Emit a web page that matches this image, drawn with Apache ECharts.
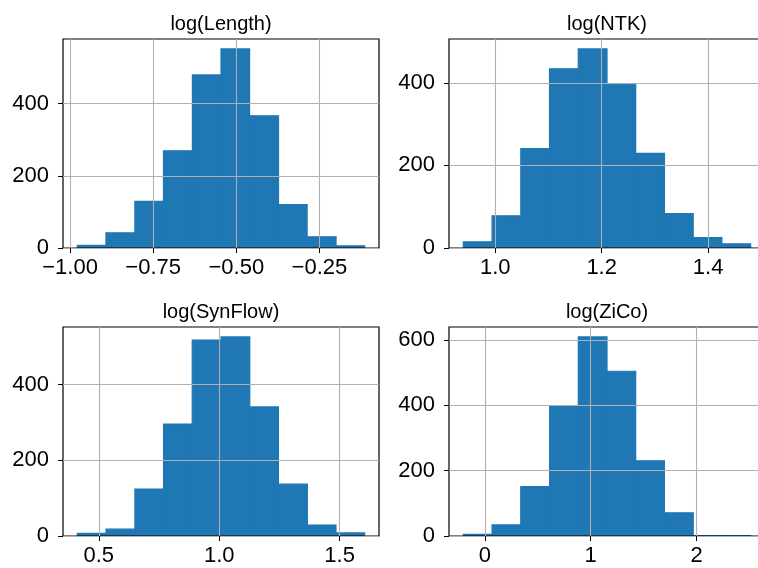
<!DOCTYPE html>
<html>
<head>
<meta charset="utf-8">
<script src="https://cdn.jsdelivr.net/npm/echarts@6/dist/echarts.min.js"></script>
<style>
    body { margin: 0; background: #fff; }
    #main { width: 758px; height: 568px; }
</style>
</head>
<body>
<div id="main"></div>
<script>
// panel titles
let titles = ['log(Length)', 'log(NTK)', 'log(SynFlow)', 'log(ZiCo)'];

// bin edges (10 bins each)
let lengthEdges = [-0.978, -0.892, -0.805, -0.719, -0.632, -0.546, -0.460, -0.373, -0.287, -0.200, -0.114];
let ntkEdges = [0.940, 0.994, 1.048, 1.102, 1.156, 1.210, 1.264, 1.318, 1.372, 1.426, 1.480];
let synflowEdges = [0.411, 0.530, 0.650, 0.769, 0.888, 1.008, 1.127, 1.246, 1.366, 1.485, 1.604];
let zicoEdges = [-0.202, 0.069, 0.340, 0.612, 0.883, 1.154, 1.425, 1.696, 1.968, 2.239, 2.510];

// counts per bin
let lengthCounts = [7, 42, 129, 269, 479, 551, 366, 120, 31, 6];
let ntkCounts = [15, 78, 241, 434, 482, 396, 229, 83, 25, 10];
let synflowCounts = [7, 18, 124, 296, 518, 526, 341, 137, 29, 8];
let zicoCounts = [5, 34, 151, 399, 609, 504, 230, 71, 1, 1];

// tick labels
let lengthTicks = [-1.00, -0.75, -0.50, -0.25];
let ntkTicks = [1.0, 1.2, 1.4];
let synflowTicks = [0.5, 1.0, 1.5];
let zicoTicks = [0, 1, 2];
let yTicksA = [0, 200, 400];
let yTicksB = [0, 200, 400, 600];

let panels = [
    {edges: lengthEdges, counts: lengthCounts, ticks: lengthTicks, dec: 2, yTicks: yTicksA, left: 63, top: 39},
    {edges: ntkEdges, counts: ntkCounts, ticks: ntkTicks, dec: 1, yTicks: yTicksA, left: 449, top: 39},
    {edges: synflowEdges, counts: synflowCounts, ticks: synflowTicks, dec: 1, yTicks: yTicksA, left: 63, top: 327},
    {edges: zicoEdges, counts: zicoCounts, ticks: zicoTicks, dec: 0, yTicks: yTicksB, left: 449, top: 327}
];

let font = 'Liberation Sans, Arial, Helvetica, sans-serif';
let gridW = 316, gridH = 209;

function renderBar(params, api) {
    let p0 = api.coord([api.value(0), api.value(2)]);
    let p1 = api.coord([api.value(1), 0]);
    return {
        type: 'rect',
        shape: {x: p0[0], y: p0[1], width: p1[0] - p0[0], height: p1[1] - p0[1]},
        // same-colour stroke closes the anti-aliasing seams between bins
        style: {fill: '#1f77b4', stroke: '#1f77b4', lineWidth: 1.2}
    };
}

let grids = [], xAxes = [], yAxes = [], series = [], graphics = [];

panels.forEach(function (p, i) {
    let lo = p.edges[0], hi = p.edges[p.edges.length - 1];
    let pad = (hi - lo) * 0.05;
    let ymax = Math.max.apply(null, p.counts) * 1.05;
    let data = [];
    for (let k = 0; k < p.counts.length; k++) {
        data.push([p.edges[k], p.edges[k + 1], p.counts[k]]);
    }
    // grid lines at the tick values, drawn above the bars like matplotlib
    let gridLines = [];
    p.ticks.forEach(function (v) { gridLines.push({xAxis: v}); });
    p.yTicks.forEach(function (v) { gridLines.push({yAxis: v}); });

    grids.push({
        left: p.left, top: p.top, width: gridW, height: gridH,
        outerBoundsMode: 'none', containLabel: false,
        show: true, borderColor: '#000', borderWidth: 1.2, backgroundColor: 'transparent', z: 5
    });
    xAxes.push({
        type: 'value', gridIndex: i, min: lo - pad, max: hi + pad, z: 5,
        axisLine: {show: false, onZero: false},
        axisTick: {show: true, length: 5, customValues: p.ticks, lineStyle: {color: '#000', width: 1}},
        axisLabel: {
            customValues: p.ticks, margin: 9, color: '#000', fontSize: 22, fontFamily: font,
            formatter: function (v) { return v.toFixed(p.dec).replace('-', '\u2212'); }
        },
        splitLine: {show: false}
    });
    yAxes.push({
        type: 'value', gridIndex: i, min: 0, max: ymax, z: 5,
        axisLine: {show: false, onZero: false},
        axisTick: {show: true, length: 5, customValues: p.yTicks, lineStyle: {color: '#000', width: 1}},
        axisLabel: {customValues: p.yTicks, margin: 14, color: '#000', fontSize: 22, fontFamily: font},
        splitLine: {show: false}
    });
    series.push({
        type: 'custom', xAxisIndex: i, yAxisIndex: i,
        renderItem: renderBar, encode: {x: [0, 1], y: 2}, data: data, z: 2
    });
    series.push({
        type: 'line', xAxisIndex: i, yAxisIndex: i, data: [], z: 4,
        markLine: {
            silent: true, symbol: 'none', animation: false,
            label: {show: false},
            lineStyle: {color: '#b0b0b0', width: 1.1, type: 'solid'},
            emphasis: {disabled: true},
            data: gridLines
        }
    });
    graphics.push({
        type: 'text', x: p.left + gridW / 2, y: p.top - 5,
        style: {text: titles[i], font: '20px ' + font, fill: '#000', textAlign: 'center', textVerticalAlign: 'bottom'}
    });
});

let myChart = echarts.init(document.getElementById('main'));
let option = {
    animation: false,
    backgroundColor: '#fff',
    grid: grids,
    xAxis: xAxes,
    yAxis: yAxes,
    series: series,
    graphic: graphics
};
myChart.setOption(option);
</script>
</body>
</html>
